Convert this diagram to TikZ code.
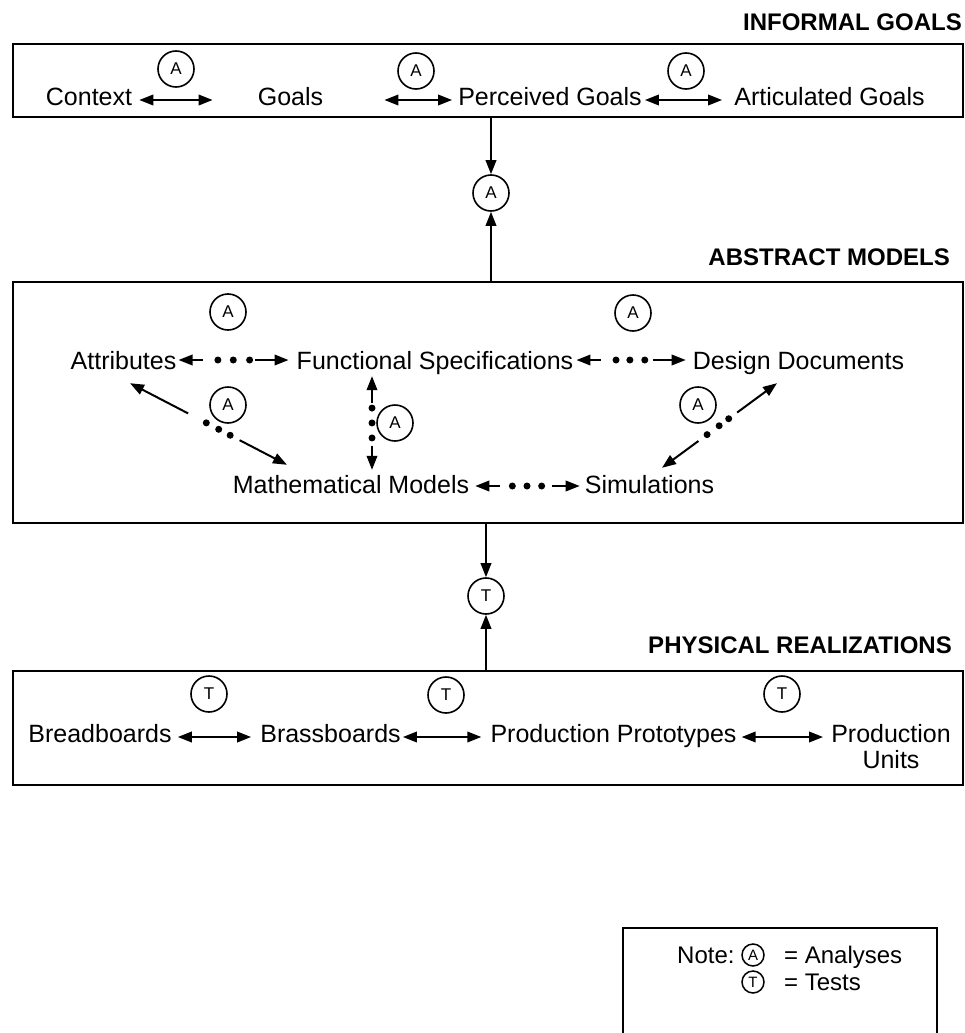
\documentclass[tikz,border=0pt]{standalone}
\usepackage{fontspec}
\setmainfont{Liberation Sans}
\usetikzlibrary{arrows.meta}
\begin{document}
\begin{tikzpicture}[x=1pt,y=-1pt,
  lbl/.style={inner sep=0pt, font=\fontsize{25}{30}\selectfont, text height=18pt, text depth=0pt},
  notelbl/.style={inner sep=0pt, anchor=west, font=\fontsize{24}{28}\selectfont, text height=17pt, text depth=0pt},
  head/.style={inner sep=0pt, anchor=east, font=\bfseries\fontsize{24}{28}\selectfont, text height=17pt, text depth=0pt},
  frame/.style={draw, line width=1.6pt, inner sep=0pt},
  circ/.style={draw, circle, line width=1.6pt, minimum size=36pt, inner sep=0pt, font=\fontsize{17}{17}\selectfont},
  smallcirc/.style={draw, circle, line width=1.5pt, minimum size=22pt, inner sep=0pt, font=\fontsize{15}{15}\selectfont},
  arr/.style={line width=2pt, -{Triangle[length=14pt,width=10.5pt]}},
  biarr/.style={line width=2pt, {Triangle[length=14pt,width=10.5pt]}-{Triangle[length=14pt,width=10.5pt]}},
  dotlink/.style={biarr, dash pattern=#1},
  dot/.style={circle, fill, inner sep=0pt, minimum size=7pt},
]
\useasboundingbox (0,0) rectangle (965,1033);

% ---------- INFORMAL GOALS ----------
\node[head] (hinf) at (962,22) {INFORMAL GOALS};
\node[frame, minimum width=950pt, minimum height=73pt] (box1) at (488,80.5) {};
\node[lbl] (ctx) at (89,96) {Context};
\node[lbl] (goals) at (290.5,96) {Goals};
\node[lbl] (perc) at (550,96) {Perceived Goals};
\node[lbl] (art) at (829.5,96) {Articulated Goals};
\node[circ] (a1) at (176,69) {A};
\node[circ] (a2) at (416,71) {A};
\node[circ] (a3) at (686,71) {A};
\draw[biarr, shorten <=7pt, shorten >=45pt] ([yshift=-4pt]ctx.east) -- ([yshift=-4pt]goals.west);
\draw[biarr, shorten <=61pt, shorten >=6pt] ([yshift=-4pt]goals.east) -- ([yshift=-4pt]perc.west);
\draw[biarr, shorten <=3pt, shorten >=12pt] ([yshift=-4pt]perc.east) -- ([yshift=-4pt]art.west);

% ---------- link informal -> abstract ----------
\node[circ] (ca) at (491,193) {A};
\draw[arr] (box1.south -| ca) -- (ca.north);

% ---------- ABSTRACT MODELS ----------
\node[head] (habs) at (950,257) {ABSTRACT MODELS};
\node[frame, minimum width=950pt, minimum height=241pt] (box2) at (488,402.5) {};
\draw[arr] (box2.north -| ca) -- (ca.south);

\node[lbl] (attr) at (123.5,360) {Attributes};
\node[lbl] (fs) at (435,360) {Functional Specifications};
\node[lbl] (dd) at (798.5,360) {Design Documents};
\node[lbl] (mm) at (351,484) {Mathematical Models};
\node[lbl] (sim) at (649.5,484) {Simulations};
\node[circ] (a4) at (228,312) {A};
\node[circ] (a5) at (633,313) {A};
\node[circ] (a6) at (395,423) {A};
\node[circ] (a7) at (228,405) {A};
\node[circ] (a8) at (698,405) {A};
\coordinate (vx) at (372,0);

\draw[dotlink={on 11pt off 52pt on 30pt}, shorten <=2pt, shorten >=8pt] (attr.east) -- (fs.west)
  node[dot, pos=0.345] (d1) {} node[dot, pos=0.473] (d2) {} node[dot, pos=0.609] (d3) {};
\draw[dotlink={on 11pt off 52pt on 30pt}, shorten <=3pt, shorten >=7pt] (fs.east) -- (dd.west)
  node[dot, pos=0.357] (d4) {} node[dot, pos=0.473] (d5) {} node[dot, pos=0.598] (d6) {};
\draw[dotlink={on 11pt off 52pt on 30pt}, shorten <=6pt, shorten >=5pt] ([yshift=-2pt]mm.east) -- ([yshift=-2pt]sim.west)
  node[dot, pos=0.373] (d7) {} node[dot, pos=0.5] (d8) {} node[dot, pos=0.627] (d9) {};
\draw[dotlink={on 13pt off 43pt on 30pt}, shorten <=7pt, shorten >=5pt] (fs.south -| vx) -- (mm.north -| vx)
  node[dot, pos=0.368] (d10) {} node[dot, pos=0.509] (d11) {} node[dot, pos=0.651] (d12) {};
\draw[dotlink={on 52pt off 58pt on 80pt}] ([xshift=6.5pt,yshift=-14pt]attr.south) -- ([xshift=-64pt,yshift=10pt]mm.north)
  node[dot, pos=0.486] (d13) {} node[dot, pos=0.565] (d14) {} node[dot, pos=0.638] (d15) {};
\draw[dotlink={on 36pt off 48pt on 80pt}] ([xshift=-21.5pt,yshift=-14pt]dd.south) -- ([xshift=12.5pt,yshift=7pt]sim.north)
  node[dot, pos=0.42] (d16) {} node[dot, pos=0.503] (d17) {} node[dot, pos=0.608] (d18) {};

% ---------- link abstract -> physical ----------
\node[circ] (ct) at (486,596) {T};
\draw[arr] (box2.south -| ct) -- (ct.north);

% ---------- PHYSICAL REALIZATIONS ----------
\node[head] (hphys) at (952,645) {PHYSICAL REALIZATIONS};
\node[frame, minimum width=950pt, minimum height=114pt] (box3) at (488,728) {};
\draw[arr] (box3.north -| ct) -- (ct.south);

\node[lbl] (bread) at (100,733) {Breadboards};
\node[lbl] (brass) at (330.5,733) {Brassboards};
\node[lbl] (pp) at (613.5,733) {Production Prototypes};
\node[inner sep=0pt, anchor=north, align=center, font=\fontsize{25}{26}\selectfont] (pu) at (891,724) {Production\\Units};
\node[circ] (t1) at (209,694) {T};
\node[circ] (t2) at (446,695) {T};
\node[circ] (t3) at (782,694) {T};
\draw[biarr, shorten <=6pt, shorten >=9pt] ([yshift=-4pt]bread.east) -- ([yshift=-4pt]brass.west);
\draw[biarr, shorten <=2pt, shorten >=9pt] ([yshift=-4pt]brass.east) -- ([yshift=-4pt]pp.west);
\draw[biarr, shorten <=5pt, shorten >=8pt] ([yshift=-4pt]pp.east) -- ([yshift=-4pt]pp.east -| pu.west);

% ---------- Note ----------
\draw[line width=1.6pt] (623,1033) -- (623,928) -- (937,928) -- (937,1033);
\node[notelbl] (note) at (677,955) {Note:};
\node[smallcirc] (na) at (753,955) {A};
\node[notelbl] (ana) at (784,955) {= Analyses};
\node[smallcirc] (nt) at (753,982) {T};
\node[notelbl] (tes) at (784,982) {= Tests};
\end{tikzpicture}
\end{document}
